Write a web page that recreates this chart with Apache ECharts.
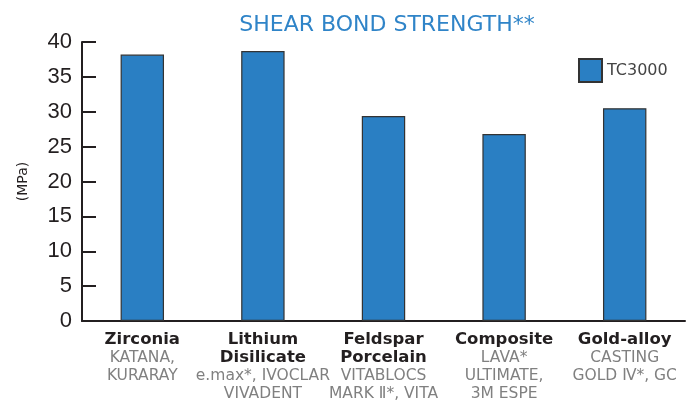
<!DOCTYPE html>
<html><head><meta charset="utf-8">
<script src="https://cdn.jsdelivr.net/npm/echarts@6/dist/echarts.min.js"></script>
<style>html,body{margin:0;padding:0;background:#fff}#c{width:696px;height:402px}</style>
</head><body><div id="c"></div>
<script>
var categories = ['Zirconia', 'Lithium\nDisilicate', 'Feldspar\nPorcelain', 'Composite', 'Gold-alloy'];
var subLabels = ['KATANA,\nKURARAY', 'e.max*, IVOCLAR\nVIVADENT', 'VITABLOCS\nMARK Ⅱ*, VITA', 'LAVA*\nULTIMATE,\n3M ESPE', 'CASTING\nGOLD Ⅳ*, GC'];
var values = [38.2, 38.7, 29.4, 26.8, 30.5];
var yTicks = [0, 5, 10, 15, 20, 25, 30, 35, 40];

var chart = echarts.init(document.getElementById('c'));
chart.setOption({
  animation: false,
  title: {
    text: 'SHEAR BOND STRENGTH**',
    left: 382, top: 9, textAlign: 'center',
    textStyle: {color: '#2f84c8', fontFamily: 'DejaVu Sans', fontWeight: 'normal', fontSize: 22}
  },
  legend: {
    left: 573, top: 53, itemWidth: 23, itemHeight: 23, itemGap: 6, icon: 'rect',
    data: ['TC3000'],
    textStyle: {color: '#444', fontFamily: 'DejaVu Sans', fontSize: 16}
  },
  grid: {left: 82, right: 11, top: 42, bottom: 78, containLabel: false},
  xAxis: {
    type: 'category', data: categories,
    axisLine: {lineStyle: {color: '#231f20', width: 2}},
    axisTick: {show: false},
    axisLabel: {
      interval: 0, margin: 10,
      formatter: function (v, i) {
        var s = v.split('\n').map(function (l) { return '{b|' + l + '}'; }).join('\n');
        s += '\n' + subLabels[i].split('\n').map(function (l) { return '{g|' + l + '}'; }).join('\n');
        return s;
      },
      rich: {
        b: {fontFamily: 'DejaVu Sans', fontWeight: 'bold', fontSize: 16.5, color: '#231f20', lineHeight: 18},
        g: {fontFamily: 'DejaVu Sans', fontSize: 15.5, color: '#808080', lineHeight: 18}
      }
    }
  },
  yAxis: {
    type: 'value', min: 0, max: 40, interval: 5,
    name: '(MPa)', nameLocation: 'middle', nameGap: 52, nameRotate: 90,
    nameTextStyle: {fontFamily: 'DejaVu Sans', fontSize: 14, color: '#231f20'},
    axisLine: {show: true, lineStyle: {color: '#231f20', width: 2}},
    axisTick: {show: true, inside: true, length: 14, lineStyle: {color: '#231f20', width: 2}},
    splitLine: {show: false},
    axisLabel: {
      margin: 10, fontFamily: 'Liberation Sans', fontSize: 22, color: '#231f20',
      formatter: function (v) { return yTicks.indexOf(v) >= 0 ? String(v) : ''; }
    }
  },
  series: [{
    name: 'TC3000', type: 'bar', data: values, barWidth: '36%',
    itemStyle: {color: '#2a7fc3', borderColor: '#333', borderWidth: 1.2}
  }]
});
</script></body></html>
